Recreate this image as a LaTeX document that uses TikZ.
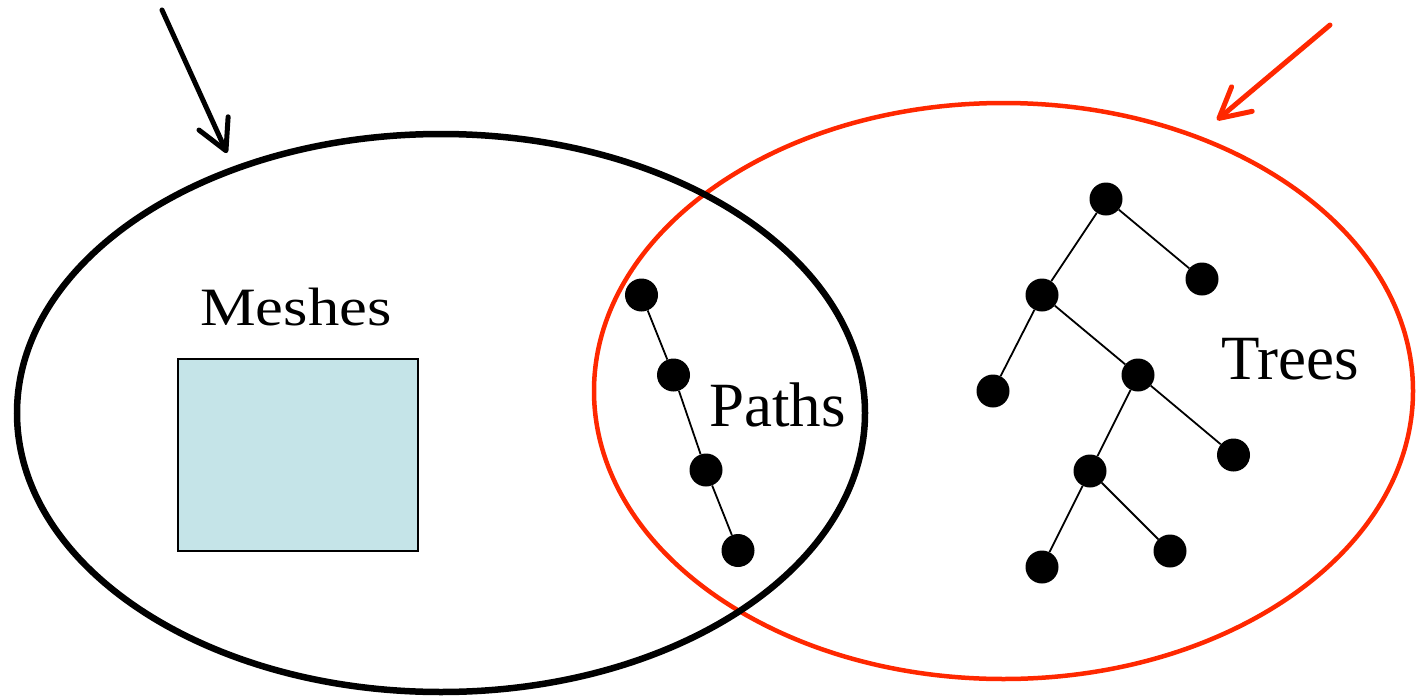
\documentclass[tikz,border=0pt]{standalone}
\usepackage{fontspec}
\setmainfont{Liberation Serif}
\usetikzlibrary{arrows.meta}
\definecolor{myred}{RGB}{255,40,0}
\definecolor{meshblue}{RGB}{197,228,232}
\tikzset{
  dot/.style={circle,fill=black,inner sep=0pt,minimum size=33pt},
  edge/.style={line width=1.8pt},
  lbl/.style={inner sep=0pt,anchor=base west,font=\fontsize{63}{70}\selectfont},
  bigarrow/.style={line width=5pt,line cap=round,-{Straight Barb[length=30pt,width=32pt,round]}}
}
\begin{document}
\begin{tikzpicture}[x=1pt,y=-1pt]
\useasboundingbox (0,0) rectangle (1417,699);
% sets
\draw[myred,line width=4.5pt] (1003.5,391) ellipse [x radius=409.5, y radius=288];
\draw[black,line width=6.5pt] (441,413) ellipse [x radius=424, y radius=279];
% mesh
\node[draw=black,line width=1.8pt,fill=meshblue,minimum width=240pt,minimum height=192pt,inner sep=0pt] (mesh) at (298,455) {};
\node[inner sep=0pt,anchor=base west,font=\fontsize{54}{60}\selectfont] (meshes) at (200,325) {\scalebox{1.16}[1]{Meshes}};
% path
\node[dot] (p1) at (641.5,295) {};
\node[dot] (p2) at (673.5,375) {};
\node[dot] (p3) at (706,470) {};
\node[dot] (p4) at (738,550.5) {};
\draw[edge] (p1) -- (p2) -- (p3) -- (p4);
\node[lbl] (paths) at (709,426) {Paths};
% tree
\node[dot] (t1) at (1106,199) {};
\node[dot] (t2) at (1202,279) {};
\node[dot] (t3) at (1042,295) {};
\node[dot] (t4) at (993,391) {};
\node[dot] (t5) at (1138,375) {};
\node[dot] (t6) at (1233.5,455) {};
\node[dot] (t7) at (1090,471) {};
\node[dot] (t8) at (1042,567) {};
\node[dot] (t9) at (1170,551) {};
\draw[edge] (t1) -- (t2);
\draw[edge] (t1) -- (t3);
\draw[edge] (t3) -- (t4);
\draw[edge] (t3) -- (t5);
\draw[edge] (t5) -- (t6);
\draw[edge] (t5) -- (t7);
\draw[edge] (t7) -- (t8);
\draw[edge] (t7) -- (t9);
\node[lbl] (trees) at (1221,379) {Trees};
% arrows
\coordinate (a1s) at (162,10);
\coordinate (a1e) at (227,153);
\coordinate (a2s) at (1330,25);
\coordinate (a2e) at (1217,120);
\draw[bigarrow,black] (a1s) -- (a1e);
\draw[bigarrow,myred] (a2s) -- (a2e);
\end{tikzpicture}
\end{document}
